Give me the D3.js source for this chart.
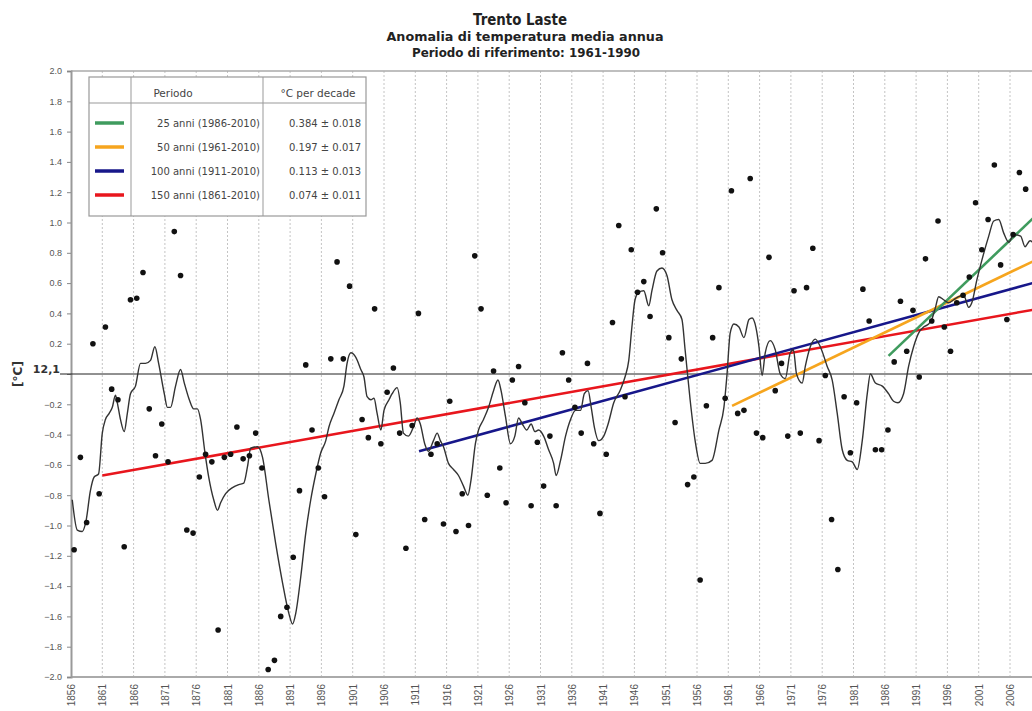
<!DOCTYPE html>
<html>
<head>
<meta charset="utf-8">
<script src="https://cdn.jsdelivr.net/npm/d3@7"></script>
<style>
  body { margin: 0; background: #fff; }
  svg { display: block; font-family: "DejaVu Sans", Verdana, sans-serif; }
</style>
</head>
<body>
<svg id="chart" width="1032" height="711"></svg>
<script>
// annual anomaly (°C), 1856-2008
const years = d3.range(1856, 2009);
const anomalies = [
  -1.16, -0.55, -0.98, 0.20, -0.79, 0.31, -0.10, -0.17, -1.14, 0.49,
  0.50, 0.67, -0.23, -0.54, -0.33, -0.58, 0.94, 0.65, -1.03, -1.05,
  -0.68, -0.53, -0.58, -1.69, -0.55, -0.53, -0.35, -0.56, -0.54, -0.39,
  -0.62, -1.95, -1.89, -1.60, -1.54, -1.21, -0.77, 0.06, -0.37, -0.62,
  -0.81, 0.10, 0.74, 0.10, 0.58, -1.06, -0.30, -0.42, 0.43, -0.46,
  -0.12, 0.04, -0.39, -1.15, -0.34, 0.40, -0.96, -0.53, -0.46, -0.99,
  -0.18, -1.04, -0.79, -1.00, 0.78, 0.43, -0.80, 0.02, -0.62, -0.85,
  -0.04, 0.05, -0.19, -0.87, -0.45, -0.74, -0.41, -0.87, 0.14, -0.04,
  -0.22, -0.39, 0.07, -0.46, -0.92, -0.53, 0.34, 0.98, -0.15, 0.82,
  0.54, 0.61, 0.38, 1.09, 0.80, 0.24, -0.32, 0.10, -0.73, -0.68,
  -1.36, -0.21, 0.24, 0.57, -0.16, 1.21, -0.26, -0.24, 1.29, -0.39,
  -0.42, 0.77, -0.11, 0.07, -0.41, 0.55, -0.39, 0.57, 0.83, -0.44,
  -0.01, -0.96, -1.29, -0.15, -0.52, -0.19, 0.56, 0.35, -0.50, -0.50,
  -0.37, 0.08, 0.48, 0.15, 0.42, -0.02, 0.76, 0.35, 1.01, 0.31,
  0.15, 0.47, 0.52, 0.64, 1.13, 0.82, 1.02, 1.38, 0.72, 0.36,
  0.92, 1.33, 1.22
];

// smoothed curve, read point by point
const smoothX = [
  1856.2, 1857.0, 1857.8, 1858.4, 1859.1, 1859.7, 1860.4, 1861.0, 1861.5, 1862.1,
  1862.6, 1863.1, 1863.4, 1863.9, 1864.5, 1865.0, 1865.5, 1866.3, 1867.1, 1867.9,
  1868.7, 1869.4, 1870.0, 1870.9, 1871.4, 1871.9, 1872.7, 1873.5, 1874.1, 1874.9,
  1875.6, 1876.2, 1876.7, 1877.4, 1878.0, 1878.8, 1879.4, 1879.9, 1880.7, 1881.8,
  1882.8, 1883.6, 1884.2, 1884.7, 1885.8, 1886.6, 1887.6, 1888.7, 1889.8, 1890.8,
  1891.4, 1891.9, 1892.7, 1893.5, 1894.3, 1895.1, 1895.9, 1896.7, 1897.2, 1898.0,
  1898.8, 1899.6, 1900.1, 1900.7, 1901.5, 1902.3, 1902.8, 1903.3, 1903.9, 1904.4,
  1904.9, 1905.5, 1906.0, 1906.8, 1907.3, 1908.1, 1908.6, 1909.1, 1909.9, 1910.7,
  1911.3, 1911.8, 1912.5, 1913.1, 1913.9, 1914.5, 1915.0, 1915.5, 1916.3, 1917.1,
  1917.9, 1918.7, 1919.4, 1919.9, 1920.6, 1921.1, 1921.9, 1922.7, 1923.5, 1924.2,
  1924.7, 1925.4, 1926.2, 1926.9, 1927.5, 1928.1, 1928.8, 1929.5, 1930.1, 1930.7,
  1931.5, 1932.3, 1933.1, 1933.5, 1934.2, 1935.0, 1935.8, 1936.6, 1937.4, 1938.0,
  1938.6, 1939.1, 1939.6, 1940.3, 1941.1, 1941.8, 1942.7, 1943.7, 1944.5, 1945.1,
  1945.6, 1946.1, 1946.7, 1947.5, 1948.3, 1948.8, 1949.6, 1950.4, 1951.2, 1952.0,
  1952.8, 1953.6, 1954.1, 1954.9, 1955.7, 1956.5, 1957.3, 1958.4, 1959.5, 1960.3,
  1960.8, 1961.3, 1961.9, 1962.7, 1963.5, 1964.3, 1964.8, 1965.4, 1965.9, 1966.4,
  1966.9, 1967.7, 1968.5, 1969.3, 1970.1, 1970.9, 1971.4, 1971.9, 1972.8, 1973.3,
  1974.1, 1974.9, 1975.7, 1976.8, 1977.6, 1978.4, 1979.2, 1980.0, 1980.8, 1981.6,
  1982.4, 1983.2, 1983.7, 1984.5, 1985.6, 1986.6, 1987.4, 1988.1, 1989.0, 1989.8,
  1990.6, 1991.4, 1992.2, 1993.0, 1993.5, 1994.1, 1994.6, 1995.4, 1996.2, 1997.0,
  1997.8, 1998.6, 1999.4, 1999.9, 2000.7, 2001.5, 2002.6, 2003.4, 2004.2, 2005.0,
  2005.8, 2006.6, 2007.7, 2008.4, 2009.2, 2010.0
];
const smoothY = [
  -0.83, -1.03, -1.04, -0.97, -0.77, -0.68, -0.66, -0.39, -0.30, -0.26,
  -0.22, -0.14, -0.19, -0.30, -0.38, -0.26, -0.13, -0.08, 0.07, 0.07,
  0.09, 0.18, 0.07, -0.13, -0.22, -0.22, -0.08, 0.03, -0.06, -0.17,
  -0.23, -0.23, -0.30, -0.52, -0.68, -0.83, -0.90, -0.85, -0.79, -0.75,
  -0.73, -0.72, -0.61, -0.49, -0.48, -0.55, -0.83, -1.12, -1.38, -1.58,
  -1.65, -1.58, -1.34, -1.05, -0.83, -0.66, -0.52, -0.44, -0.35, -0.26,
  -0.17, -0.08, 0.07, 0.14, 0.11, 0.03, -0.02, -0.15, -0.17, -0.16,
  -0.26, -0.37, -0.24, -0.17, -0.13, -0.09, -0.19, -0.39, -0.41, -0.35,
  -0.29, -0.33, -0.46, -0.51, -0.44, -0.39, -0.44, -0.48, -0.59, -0.63,
  -0.67, -0.74, -0.80, -0.70, -0.46, -0.37, -0.30, -0.22, -0.11, -0.04,
  -0.11, -0.28, -0.46, -0.41, -0.29, -0.33, -0.37, -0.33, -0.38, -0.37,
  -0.41, -0.50, -0.59, -0.67, -0.57, -0.41, -0.30, -0.24, -0.24, -0.13,
  -0.11, -0.22, -0.35, -0.44, -0.41, -0.33, -0.19, -0.11, -0.02, 0.09,
  0.31, 0.49, 0.54, 0.55, 0.45, 0.55, 0.68, 0.70, 0.65, 0.49,
  0.42, 0.36, 0.16, -0.17, -0.44, -0.59, -0.59, -0.57, -0.37, -0.22,
  0.00, 0.27, 0.33, 0.31, 0.24, 0.36, 0.37, 0.31, 0.18, -0.01,
  0.14, 0.22, 0.16, 0.00, -0.03, 0.14, 0.16, 0.00, -0.06, 0.05,
  0.18, 0.23, 0.18, 0.05, -0.04, -0.26, -0.50, -0.57, -0.58, -0.63,
  -0.44, -0.13, 0.00, -0.06, -0.08, -0.13, -0.18, -0.19, -0.13, 0.05,
  0.18, 0.27, 0.31, 0.33, 0.36, 0.44, 0.51, 0.49, 0.47, 0.49,
  0.51, 0.52, 0.44, 0.47, 0.62, 0.75, 0.91, 1.01, 1.02, 0.93,
  0.87, 0.92, 0.91, 0.84, 0.88, 0.85
];

// trend lines
const trendLabels = ["25 anni (1986-2010)", "50 anni (1961-2010)", "100 anni (1911-2010)", "150 anni (1861-2010)"];
const trendRates = ["0.384 ± 0.018", "0.197 ± 0.017", "0.113 ± 0.013", "0.074 ± 0.011"];
const trendColors = ["#3f9b5e", "#f6a51e", "#17178a", "#e8161d"];
const trendStartYear = [1986.6, 1961.6, 1911.6, 1861.0];
const trendStartVal = [0.12, -0.21, -0.51, -0.67];
const trendEndYear = [2010.5, 2010.5, 2010.5, 2010.5];
const trendEndVal = [1.06, 0.76, 0.61, 0.43];

const yTicks = d3.range(-2.0, 2.01, 0.2);
const xTicks = d3.range(1856, 2007, 5);

const svg = d3.select("#chart");

const x = d3.scaleLinear().domain([1856, 2006]).range([71, 1010]);
const y = d3.scaleLinear().domain([-2, 2]).range([677, 71]);
const xEnd = x(2012);

// titles
svg.append("text").attr("x", 520).attr("y", 25).attr("text-anchor", "middle")
  .attr("textLength", 94).attr("lengthAdjust", "spacingAndGlyphs")
  .style("font-size", "16px").style("font-weight", "bold").attr("fill", "#222").text("Trento Laste");
svg.append("text").attr("x", 525).attr("y", 41).attr("text-anchor", "middle")
  .attr("textLength", 277).attr("lengthAdjust", "spacingAndGlyphs")
  .style("font-size", "12px").style("font-weight", "bold").attr("fill", "#222").text("Anomalia di temperatura media annua");
svg.append("text").attr("x", 526).attr("y", 57).attr("text-anchor", "middle")
  .attr("textLength", 228).attr("lengthAdjust", "spacingAndGlyphs")
  .style("font-size", "11.5px").style("font-weight", "bold").attr("fill", "#222").text("Periodo di riferimento: 1961-1990");

// vertical dashed grid
svg.append("g").selectAll("line").data(xTicks.slice(1)).join("line")
  .attr("x1", d => x(d)).attr("x2", d => x(d))
  .attr("y1", y(2)).attr("y2", y(-2))
  .attr("stroke", "#c4c4c4").attr("stroke-width", 1).attr("stroke-dasharray", "2,2");

// frame top and bottom
svg.append("line").attr("x1", x(1856)).attr("x2", xEnd).attr("y1", y(2)).attr("y2", y(2))
  .attr("stroke", "#aaa").attr("stroke-width", 1.5);
svg.append("line").attr("x1", x(1856)).attr("x2", xEnd).attr("y1", y(-2)).attr("y2", y(-2))
  .attr("stroke", "#aaa").attr("stroke-width", 2);

// y axis
const yAxis = svg.append("g").attr("transform", `translate(${x(1856)},0)`)
  .call(d3.axisLeft(y).tickValues(yTicks).tickSize(4).tickPadding(5)
    .tickFormat(d => d3.format(".1f")(Math.abs(d) < 1e-9 ? 0 : d)));
yAxis.select(".domain").attr("stroke", "#999").attr("stroke-width", 2);
yAxis.selectAll(".tick line").attr("stroke", "#888");
yAxis.selectAll(".tick text").attr("fill", "#555").style("font-size", "9px");
yAxis.selectAll(".tick").filter(d => Math.abs(d) < 1e-9).select("text").remove();

// x axis labels
const xAxis = svg.append("g").attr("transform", `translate(0,${y(-2)})`)
  .call(d3.axisBottom(x).tickValues(xTicks).tickSize(0).tickFormat(d3.format("d")));
xAxis.select(".domain").remove();
xAxis.selectAll(".tick text")
  .attr("transform", "rotate(-90)").attr("text-anchor", "end")
  .attr("x", -7).attr("y", 0).attr("dy", "0.35em")
  .attr("fill", "#555").style("font-size", "10px");

// zero line and reference value
svg.append("line").attr("x1", 60).attr("x2", xEnd).attr("y1", y(0)).attr("y2", y(0))
  .attr("stroke", "#222").attr("stroke-width", 1);
svg.append("text").attr("x", 60).attr("y", y(0) - 1).attr("text-anchor", "end")
  .style("font-size", "11px").style("font-weight", "bold").attr("fill", "#333").text("12,1");
svg.append("text").attr("transform", `translate(22,${y(0)}) rotate(-90)`).attr("text-anchor", "middle")
  .style("font-size", "12px").style("font-weight", "bold").attr("fill", "#333").text("[°C]");

// trend lines: red, blue, orange, green
const trendOrder = [3, 2, 1, 0];
svg.append("g").selectAll("line").data(trendOrder).join("line")
  .attr("x1", i => x(trendStartYear[i])).attr("y1", i => y(trendStartVal[i]))
  .attr("x2", i => x(trendEndYear[i])).attr("y2", i => y(trendEndVal[i]))
  .attr("stroke", i => trendColors[i]).attr("stroke-width", 2.6);

// smoothed curve
const smooth = smoothX.map((v, i) => [v, smoothY[i]]);
svg.append("path").datum(smooth)
  .attr("fill", "none").attr("stroke", "#333").attr("stroke-width", 1.4)
  .attr("d", d3.line().x(d => x(d[0])).y(d => y(d[1])).curve(d3.curveMonotoneX));

// annual dots
svg.append("g").selectAll("circle").data(years).join("circle")
  .attr("cx", d => x(d + 0.5)).attr("cy", (d, i) => y(anomalies[i]))
  .attr("r", 2.8).attr("fill", "#111");

// legend table
const lg = svg.append("g");
lg.append("rect").attr("x", 89).attr("y", 77).attr("width", 277).attr("height", 139)
  .attr("fill", "#fff").attr("stroke", "#999").attr("stroke-width", 1.2);
lg.append("line").attr("x1", 89).attr("x2", 366).attr("y1", 103).attr("y2", 103).attr("stroke", "#999");
lg.append("line").attr("x1", 131).attr("x2", 131).attr("y1", 77).attr("y2", 216).attr("stroke", "#999");
lg.append("line").attr("x1", 263).attr("x2", 263).attr("y1", 77).attr("y2", 216).attr("stroke", "#999");
lg.append("text").attr("x", 173).attr("y", 97).attr("text-anchor", "middle")
  .style("font-size", "10.5px").attr("fill", "#444").text("Periodo");
lg.append("text").attr("x", 318).attr("y", 97).attr("text-anchor", "middle")
  .style("font-size", "10.5px").attr("fill", "#444").text("°C per decade");
const rows = lg.selectAll("g.row").data(d3.range(4)).join("g")
  .attr("class", "row").attr("transform", i => `translate(0,${123 + i * 24})`);
rows.append("line").attr("x1", 95).attr("x2", 124).attr("y1", 0).attr("y2", 0)
  .attr("stroke", i => trendColors[i]).attr("stroke-width", 3.5);
rows.append("text").attr("x", 260).attr("y", 3.5).attr("text-anchor", "end")
  .style("font-size", "10px").attr("fill", "#444").text(i => trendLabels[i]);
rows.append("text").attr("x", 361).attr("y", 3.5).attr("text-anchor", "end")
  .style("font-size", "10px").attr("fill", "#444").text(i => trendRates[i]);
</script>
</body>
</html>
